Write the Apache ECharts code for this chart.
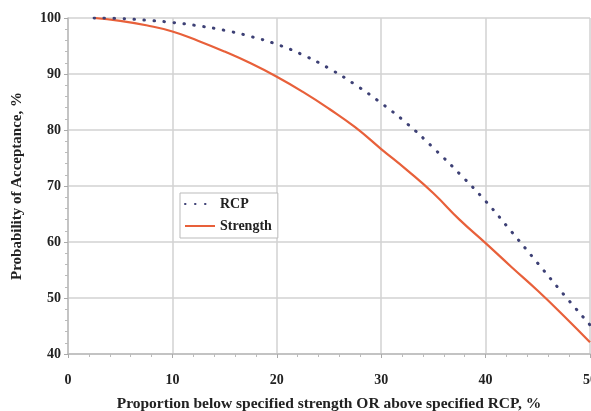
<!DOCTYPE html>
<html><head><meta charset="utf-8">
<script src="https://cdn.jsdelivr.net/npm/echarts@6/dist/echarts.min.js"></script>
<style>html,body{margin:0;padding:0;background:#fff}#c{width:591px;height:411px}</style>
</head><body><div id="c"></div>
<script>
const xValues = [2.5, 5, 7.5, 10, 12.5, 15, 17.5, 20, 22.5, 25, 27.5, 30, 32.5, 35, 37.5, 40, 42.5, 45, 47.5, 50];
const rcpValues = [100, 99.9, 99.6, 99.2, 98.6, 97.8, 96.7, 95.3, 93.4, 91.0, 88.1, 84.8, 81.1, 76.8, 72.2, 67.3, 61.8, 56.2, 50.6, 45.2];
const strengthValues = [100, 99.5, 98.7, 97.6, 95.9, 94.0, 91.9, 89.5, 86.8, 83.8, 80.5, 76.6, 72.8, 68.7, 64.0, 59.8, 55.5, 51.3, 46.8, 42.1];
const seriesNames = ['RCP', 'Strength'];
const xTitle = 'Proportion below specified strength OR above specified RCP, %';
const yTitle = 'Probability of Acceptance, %';

const font = 'Liberation Serif';
const chart = echarts.init(document.getElementById('c'));
const pair = (ys) => xValues.map((x, i) => [x, ys[i]]);
chart.setOption({
  animation: false,
  backgroundColor: '#fff',
  grid: { left: 68, right: 1, top: 18, bottom: 57, containLabel: false, outerBoundsMode: 'none' },
  legend: {
    left: 180, top: 193, orient: 'vertical',
    data: seriesNames,
    backgroundColor: '#fff', borderColor: '#bbb', borderWidth: 1,
    padding: [4, 6, 5, 4], itemGap: 8, itemWidth: 30, itemHeight: 14,
    itemStyle: { opacity: 0 },
    textStyle: { fontFamily: font, fontSize: 14, color: '#222', fontWeight: 'bold' }
  },
  xAxis: {
    type: 'value', min: 0, max: 50, interval: 10,
    name: xTitle, nameLocation: 'middle', nameGap: 42,
    nameTextStyle: { fontFamily: font, fontSize: 15.5, color: '#222', fontWeight: 'bold' },
    axisLine: { lineStyle: { color: '#bbb', width: 1.5 } },
    axisTick: { show: true, length: 4, lineStyle: { color: '#aaa' } },
    minorTick: { show: true, splitNumber: 5, length: 3, lineStyle: { color: '#bbb' } },
    axisLabel: { fontFamily: font, fontSize: 14, color: '#222', margin: 19, fontWeight: 'bold' },
    splitLine: { show: true, lineStyle: { color: '#d2d2d2', width: 1.5 } }
  },
  yAxis: {
    type: 'value', min: 40, max: 100, interval: 10,
    name: yTitle, nameLocation: 'middle', nameGap: 43,
    nameTextStyle: { fontFamily: font, fontSize: 15, color: '#222', fontWeight: 'bold' },
    axisLine: { show: true, lineStyle: { color: '#bbb', width: 1.5 } },
    axisTick: { show: true, length: 4, lineStyle: { color: '#aaa' } },
    minorTick: { show: true, splitNumber: 5, length: 3, lineStyle: { color: '#bbb' } },
    axisLabel: { fontFamily: font, fontSize: 14, color: '#222', margin: 7, fontWeight: 'bold' },
    splitLine: { show: true, lineStyle: { color: '#d2d2d2', width: 1.5 } }
  },
  series: [
    {
      name: seriesNames[0], type: 'line', smooth: true, showSymbol: false, symbol: 'none',
      data: pair(rcpValues), color: '#3d4075',
      lineStyle: { color: '#3d4075', width: 3, type: [0.5, 9.5], cap: 'round' }, z: 3
    },
    {
      name: seriesNames[1], type: 'line', smooth: true, showSymbol: false, symbol: 'none',
      data: pair(strengthValues), color: '#e8603a',
      lineStyle: { color: '#e8603a', width: 2.2 }, z: 2
    }
  ]
});
</script></body></html>
